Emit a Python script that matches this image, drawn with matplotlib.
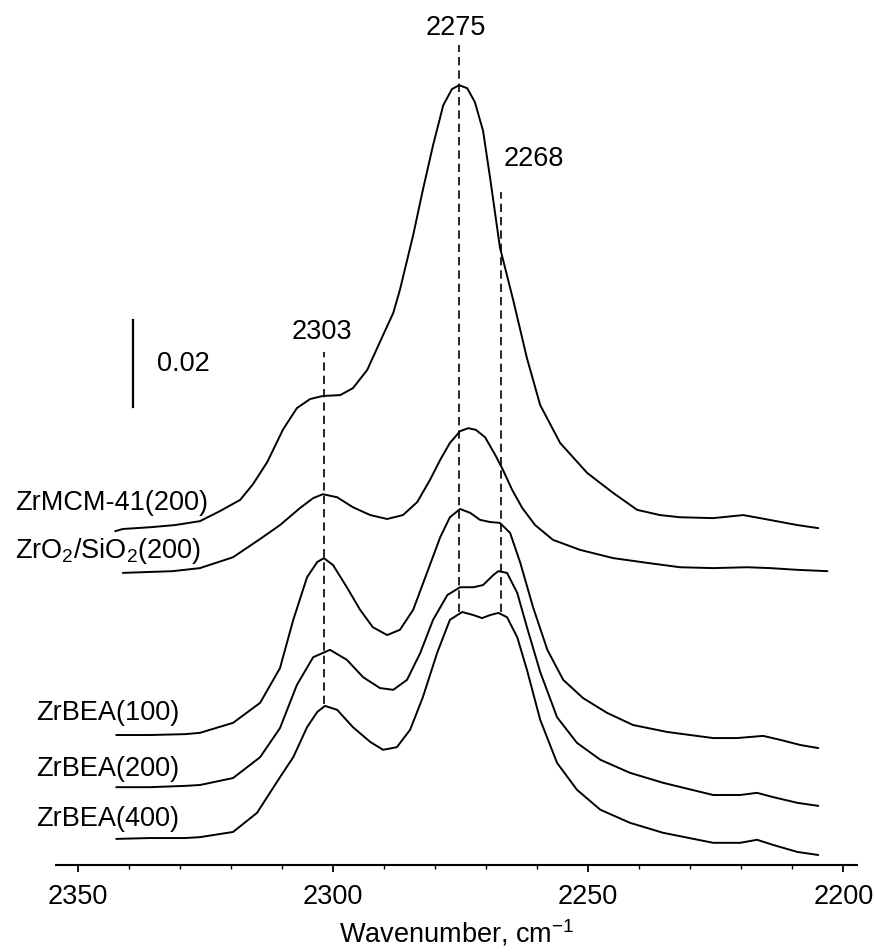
import numpy as np
import matplotlib
matplotlib.use("Agg")
import matplotlib.pyplot as plt

plt.rcParams["font.family"] = ["Liberation Sans", "DejaVu Sans"]
plt.rcParams["mathtext.fontset"] = "custom"
plt.rcParams["mathtext.rm"] = "Liberation Sans"
plt.rcParams["mathtext.it"] = "Liberation Sans:italic"

# spectra: wavenumber (cm-1) and absorbance in mAbs (curves already offset)
mcm_w = [2342.7, 2341.2, 2335.9, 2331.0, 2326.1, 2322.2, 2318.2, 2315.7, 2312.9, 2309.8,
         2307.1, 2304.5, 2302.0, 2298.6, 2296.1, 2293.3, 2290.2, 2288.2, 2286.9, 2284.3,
         2282.4, 2280.4, 2278.4, 2276.7, 2275.3, 2273.7, 2272.2, 2270.6, 2269.2, 2267.3,
         2264.7, 2262.0, 2259.4, 2255.5, 2250.2, 2245.1, 2240.4, 2235.9, 2232.0, 2225.5,
         2219.6, 2216.3, 2209.0, 2204.9]
mcm_a = [76.8, 77.3, 77.7, 78.2, 79.1, 81.4, 84.0, 87.6, 92.7, 100.2,
         105.1, 107.2, 107.9, 108.1, 109.7, 113.9, 121.9, 127.0, 132.3, 144.9,
         155.3, 165.6, 174.8, 178.5, 179.4, 178.7, 175.5, 168.9, 157.9, 142.1,
         130.0, 116.6, 105.8, 97.1, 90.2, 85.6, 81.7, 80.5, 80.0, 79.8,
         80.5, 79.8, 78.2, 77.5]

zrsi_w = [2341.2, 2331.4, 2326.1, 2319.6, 2314.3, 2310.4, 2306.5, 2303.9, 2302.0, 2299.2,
          2296.1, 2292.7, 2289.4, 2286.3, 2283.5, 2281.0, 2279.0, 2277.1, 2275.1, 2273.5,
          2272.0, 2270.2, 2268.2, 2266.7, 2264.9, 2262.9, 2260.4, 2256.9, 2251.6, 2245.1,
          2238.4, 2232.0, 2225.5, 2218.8, 2214.3, 2209.0, 2203.1]
zrsi_a = [67.2, 67.6, 68.3, 70.8, 75.0, 78.2, 82.1, 84.4, 85.3, 84.6,
          82.3, 80.5, 79.6, 80.5, 83.5, 88.6, 93.2, 97.1, 99.8, 100.5,
          100.1, 98.4, 94.3, 90.9, 86.3, 82.1, 78.2, 74.8, 72.5, 70.6,
          69.5, 68.5, 68.3, 68.5, 68.3, 67.9, 67.6]

bea100_w = [2342.5, 2335.9, 2329.0, 2326.1, 2319.6, 2314.3, 2310.4, 2307.8, 2305.1, 2303.1,
            2301.8, 2300.0, 2297.3, 2294.7, 2292.2, 2289.4, 2286.9, 2284.3, 2281.6, 2279.0,
            2277.1, 2275.1, 2273.1, 2271.2, 2269.2, 2267.3, 2265.3, 2263.3, 2260.8, 2258.0,
            2254.9, 2251.0, 2246.3, 2241.2, 2234.5, 2225.5, 2220.8, 2218.8, 2215.7, 2212.4,
            2208.4, 2204.9]
bea100_a = [29.9, 29.9, 30.1, 30.4, 32.7, 37.3, 45.3, 56.4, 66.2, 69.7,
            70.6, 69.0, 63.9, 58.7, 54.7, 52.9, 54.1, 58.7, 67.2, 75.4,
            80.0, 81.9, 81.0, 79.4, 78.9, 78.7, 76.4, 69.5, 59.3, 49.5,
            42.6, 38.4, 35.0, 32.2, 30.6, 29.2, 29.2, 29.4, 29.7, 28.8,
            27.6, 26.9]

bea200_w = [2342.5, 2335.9, 2329.0, 2326.1, 2319.6, 2314.3, 2310.4, 2307.1, 2303.9, 2300.6,
            2297.3, 2294.1, 2290.8, 2288.2, 2285.5, 2282.9, 2280.4, 2277.6, 2275.1, 2272.5,
            2270.6, 2268.6, 2267.6, 2265.9, 2263.9, 2262.0, 2259.4, 2256.1, 2252.2, 2247.6,
            2241.8, 2235.3, 2225.5, 2220.2, 2216.9, 2213.7, 2209.0, 2204.9]
bea200_a = [17.9, 17.9, 18.2, 18.4, 20.0, 24.8, 31.5, 41.4, 47.8, 49.5,
            47.2, 43.2, 40.7, 40.3, 42.6, 48.8, 56.4, 62.1, 63.9, 63.9,
            64.4, 66.7, 67.6, 67.2, 62.6, 54.7, 44.4, 34.0, 28.1, 24.2,
            21.2, 18.9, 16.1, 16.1, 16.6, 15.6, 14.3, 13.6]

bea400_w = [2342.5, 2335.9, 2329.0, 2326.1, 2319.6, 2314.9, 2310.4, 2307.8, 2305.1, 2303.1,
            2301.6, 2299.2, 2296.1, 2292.7, 2290.2, 2287.5, 2284.9, 2282.4, 2279.6, 2277.1,
            2274.7, 2272.5, 2270.8, 2269.2, 2267.6, 2265.9, 2263.9, 2262.0, 2259.4, 2256.1,
            2252.2, 2247.6, 2241.8, 2235.3, 2225.5, 2220.2, 2216.9, 2213.7, 2209.0, 2204.9]
bea400_a = [6.0, 6.2, 6.2, 6.4, 7.6, 12.0, 20.2, 24.8, 31.7, 35.2,
            36.6, 35.7, 31.7, 28.3, 26.5, 27.1, 31.1, 38.6, 48.8, 56.4,
            58.2, 57.5, 56.8, 57.5, 58.0, 57.0, 52.4, 44.9, 33.4, 23.5,
            17.3, 12.7, 9.7, 7.4, 5.1, 5.1, 5.8, 4.6, 3.0, 2.3]

# marked band positions and the extent of their dashed guide lines (mAbs)
bands = ["2303", "2275", "2268"]
band_pos = [2301.8, 2275.3, 2267.1]
band_top = [118.0, 188.6, 154.8]
band_bot = [37.0, 58.2, 58.2]

fig = plt.figure(figsize=(8.74, 9.52), dpi=100)
ax = fig.add_axes([0.0641, 0.0914, 0.9165, 0.9086])

for w, a in [(mcm_w, mcm_a), (zrsi_w, zrsi_a), (bea100_w, bea100_a),
             (bea200_w, bea200_a), (bea400_w, bea400_a)]:
    ax.plot(w, np.array(a) / 1000, color="black", lw=1.4,
            solid_joinstyle="round", solid_capstyle="round")

for p, t, b in zip(band_pos, band_top, band_bot):
    ax.plot([p, p], [b / 1000, t / 1000], color="black", lw=1.2, ls=(0, (5, 3)))

fs = 19.5
ax.text(2302.2, 0.1226, bands[0], fontsize=fs, ha="center", va="center")
ax.text(2275.9, 0.1925, bands[1], fontsize=fs, ha="center", va="center")
ax.text(2260.6, 0.1625, bands[2], fontsize=fs, ha="center", va="center")

# scale bar 0.02
ax.plot([2339.2, 2339.2], [0.1053, 0.1253], color="black", lw=1.6)
ax.text(2334.5, 0.1152, "0.02", fontsize=fs, ha="left", va="center")

ax.text(2362.4, 0.0833, "ZrMCM-41(200)", fontsize=fs, ha="left", va="center", clip_on=False)
ax.text(2362.4, 0.0722, r"ZrO$_\mathrm{2}$/SiO$_\mathrm{2}$(200)", fontsize=fs,
        ha="left", va="center", clip_on=False)
ax.text(2358.2, 0.0350, "ZrBEA(100)", fontsize=fs, ha="left", va="center", clip_on=False)
ax.text(2358.2, 0.0221, "ZrBEA(200)", fontsize=fs, ha="left", va="center", clip_on=False)
ax.text(2358.2, 0.0106, "ZrBEA(400)", fontsize=fs, ha="left", va="center", clip_on=False)

ax.set_xlim(2354.3, 2197.3)
ax.set_ylim(0, 0.199)
ax.set_xticks([2350, 2300, 2250, 2200])
ax.set_xticks(np.arange(2200, 2351, 10), minor=True)
ax.tick_params(axis="x", which="major", length=5, width=1.3, labelsize=fs, pad=9)
ax.tick_params(axis="x", which="minor", length=3, width=1.0)
ax.set_yticks([])
for s in ["top", "left", "right"]:
    ax.spines[s].set_visible(False)
ax.spines["bottom"].set_linewidth(1.5)
ax.set_xlabel(r"Wavenumber, cm$^\mathrm{-1}$", fontsize=fs, labelpad=5)

fig.savefig("out.png", dpi=100)
